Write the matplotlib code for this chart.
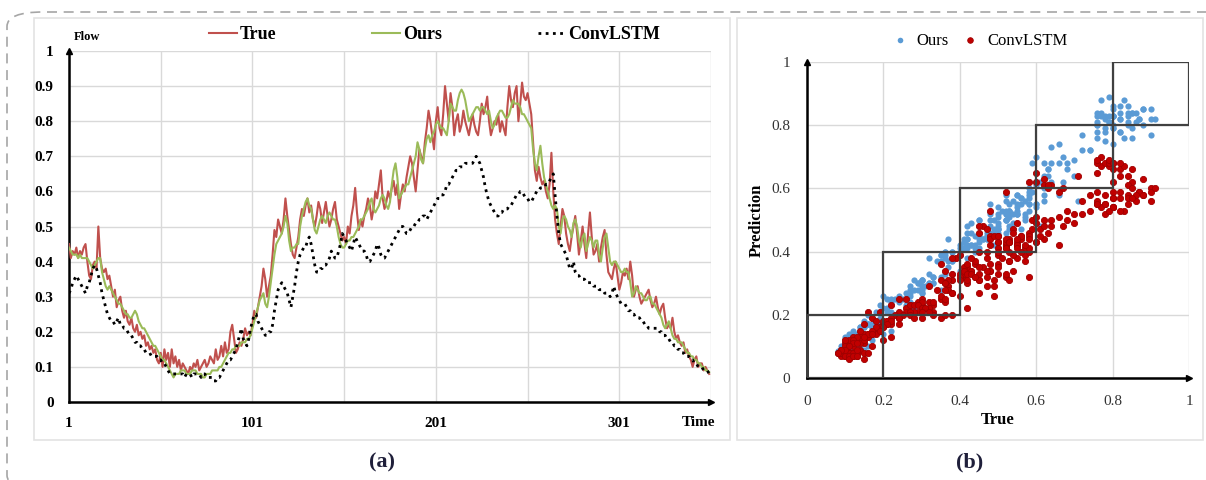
"""Flow prediction comparison: (a) time series, (b) true vs prediction scatter."""
import matplotlib
matplotlib.use("Agg")
import matplotlib.pyplot as plt
import numpy as np
from matplotlib.patches import FancyBboxPatch, Rectangle

# --- data (t = 1..350) ------------------------------------------------------
true_flow = [
    0.45, 0.41, 0.43, 0.42, 0.44, 0.41, 0.43, 0.42, 0.44, 0.45,
    0.40, 0.36, 0.35, 0.39, 0.40, 0.38, 0.50, 0.41, 0.38, 0.37,
    0.38, 0.35, 0.36, 0.33, 0.30, 0.32, 0.27, 0.29, 0.30, 0.26,
    0.24, 0.26, 0.23, 0.22, 0.24, 0.21, 0.20, 0.22, 0.19, 0.20,
    0.18, 0.19, 0.16, 0.17, 0.15, 0.16, 0.14, 0.15, 0.12, 0.11,
    0.14, 0.10, 0.15, 0.12, 0.14, 0.10, 0.15, 0.11, 0.13, 0.10,
    0.12, 0.09, 0.11, 0.10, 0.09, 0.08, 0.10, 0.09, 0.11, 0.10,
    0.12, 0.09, 0.10, 0.11, 0.12, 0.10, 0.11, 0.13, 0.12, 0.11,
    0.15, 0.12, 0.13, 0.16, 0.13, 0.17, 0.14, 0.15, 0.20, 0.22,
    0.18, 0.14, 0.15, 0.17, 0.16, 0.18, 0.21, 0.19, 0.20, 0.19,
    0.22, 0.26, 0.24, 0.27, 0.30, 0.33, 0.38, 0.35, 0.30, 0.33,
    0.36, 0.42, 0.49, 0.47, 0.52, 0.50, 0.48, 0.52, 0.58, 0.53,
    0.49, 0.45, 0.42, 0.41, 0.44, 0.47, 0.52, 0.55, 0.53, 0.56,
    0.58, 0.54, 0.56, 0.52, 0.50, 0.53, 0.57, 0.55, 0.51, 0.54,
    0.57, 0.53, 0.50, 0.52, 0.55, 0.57, 0.52, 0.50, 0.48, 0.46,
    0.47, 0.45, 0.50, 0.48, 0.53, 0.56, 0.61, 0.54, 0.49, 0.52,
    0.50, 0.53, 0.55, 0.58, 0.56, 0.52, 0.55, 0.60, 0.58, 0.62,
    0.66, 0.58, 0.55, 0.57, 0.60, 0.58, 0.61, 0.63, 0.59, 0.62,
    0.55, 0.59, 0.62, 0.60, 0.64, 0.67, 0.70, 0.68, 0.64, 0.60,
    0.66, 0.72, 0.70, 0.68, 0.74, 0.78, 0.83, 0.80, 0.76, 0.72,
    0.80, 0.84, 0.78, 0.76, 0.82, 0.90, 0.85, 0.80, 0.88, 0.84,
    0.76, 0.80, 0.82, 0.77, 0.79, 0.83, 0.80, 0.78, 0.76, 0.79,
    0.82, 0.79, 0.77, 0.76, 0.80, 0.85, 0.82, 0.84, 0.87, 0.80,
    0.76, 0.78, 0.80, 0.79, 0.82, 0.77, 0.80, 0.78, 0.76, 0.84,
    0.90, 0.86, 0.84, 0.88, 0.90, 0.80, 0.85, 0.91, 0.87, 0.86,
    0.88, 0.85, 0.82, 0.74, 0.66, 0.63, 0.67, 0.64, 0.62, 0.63,
    0.60, 0.58, 0.62, 0.71, 0.60, 0.52, 0.48, 0.45, 0.50, 0.55,
    0.53, 0.48, 0.45, 0.43, 0.47, 0.50, 0.53, 0.48, 0.42, 0.46,
    0.50, 0.45, 0.41, 0.48, 0.54, 0.47, 0.42, 0.43, 0.45, 0.40,
    0.44, 0.47, 0.49, 0.42, 0.37, 0.36, 0.35, 0.38, 0.40, 0.36,
    0.32, 0.34, 0.37, 0.36, 0.38, 0.35, 0.40, 0.36, 0.30, 0.32,
    0.33, 0.30, 0.28, 0.29, 0.30, 0.31, 0.32, 0.29, 0.27, 0.28,
    0.30, 0.27, 0.25, 0.27, 0.28, 0.24, 0.21, 0.22, 0.21, 0.24,
    0.20, 0.18, 0.19, 0.17, 0.16, 0.17, 0.14, 0.15, 0.13, 0.12,
    0.10, 0.12, 0.13, 0.10, 0.11, 0.11, 0.09, 0.10, 0.09, 0.08,
]
ours_flow = [
    0.44, 0.43, 0.42, 0.42, 0.42, 0.41, 0.42, 0.41, 0.41, 0.41,
    0.41, 0.40, 0.39, 0.38, 0.39, 0.40, 0.41, 0.41, 0.37, 0.35,
    0.33, 0.32, 0.33, 0.32, 0.31, 0.30, 0.29, 0.28, 0.28, 0.27,
    0.26, 0.25, 0.25, 0.24, 0.24, 0.25, 0.26, 0.25, 0.23, 0.22,
    0.21, 0.21, 0.20, 0.19, 0.18, 0.17, 0.16, 0.16, 0.15, 0.14,
    0.13, 0.12, 0.12, 0.11, 0.10, 0.09, 0.08, 0.07, 0.08, 0.08,
    0.08, 0.09, 0.09, 0.09, 0.08, 0.08, 0.08, 0.09, 0.09, 0.09,
    0.08, 0.08, 0.08, 0.07, 0.07, 0.08, 0.08, 0.08, 0.09, 0.09,
    0.09, 0.09, 0.10, 0.10, 0.11, 0.12, 0.13, 0.14, 0.14, 0.15,
    0.15, 0.16, 0.16, 0.16, 0.17, 0.17, 0.17, 0.18, 0.18, 0.19,
    0.21, 0.23, 0.25, 0.27, 0.29, 0.30, 0.31, 0.28, 0.27, 0.30,
    0.34, 0.38, 0.42, 0.45, 0.46, 0.47, 0.48, 0.50, 0.53, 0.51,
    0.46, 0.43, 0.44, 0.44, 0.45, 0.45, 0.50, 0.53, 0.55, 0.57,
    0.58, 0.56, 0.55, 0.52, 0.49, 0.48, 0.50, 0.52, 0.53, 0.52,
    0.51, 0.53, 0.54, 0.53, 0.52, 0.52, 0.50, 0.47, 0.45, 0.44,
    0.44, 0.45, 0.46, 0.46, 0.47, 0.47, 0.48, 0.49, 0.50, 0.52,
    0.52, 0.53, 0.54, 0.55, 0.57, 0.58, 0.55, 0.54, 0.55, 0.56,
    0.58, 0.59, 0.58, 0.56, 0.55, 0.57, 0.62, 0.66, 0.68, 0.64,
    0.58, 0.59, 0.60, 0.61, 0.62, 0.62, 0.64, 0.66, 0.68, 0.70,
    0.74, 0.72, 0.69, 0.68, 0.72, 0.75, 0.76, 0.74, 0.76, 0.77,
    0.79, 0.80, 0.79, 0.78, 0.78, 0.77, 0.76, 0.80, 0.85, 0.84,
    0.83, 0.83, 0.86, 0.88, 0.89, 0.88, 0.86, 0.83, 0.80, 0.81,
    0.82, 0.83, 0.84, 0.84, 0.83, 0.84, 0.84, 0.83, 0.82, 0.83,
    0.80, 0.78, 0.79, 0.81, 0.82, 0.83, 0.83, 0.82, 0.81, 0.81,
    0.82, 0.84, 0.86, 0.85, 0.85, 0.85, 0.84, 0.82, 0.82, 0.81,
    0.80, 0.79, 0.78, 0.72, 0.68, 0.66, 0.70, 0.73, 0.68, 0.64,
    0.62, 0.60, 0.58, 0.56, 0.55, 0.56, 0.55, 0.50, 0.48, 0.52,
    0.53, 0.52, 0.50, 0.49, 0.47, 0.51, 0.52, 0.50, 0.46, 0.44,
    0.47, 0.48, 0.43, 0.45, 0.47, 0.46, 0.44, 0.46, 0.46, 0.42,
    0.40, 0.44, 0.47, 0.48, 0.44, 0.40, 0.39, 0.40, 0.40, 0.39,
    0.38, 0.37, 0.37, 0.38, 0.37, 0.37, 0.34, 0.30, 0.31, 0.33,
    0.32, 0.31, 0.31, 0.30, 0.29, 0.29, 0.30, 0.30, 0.28, 0.28,
    0.27, 0.26, 0.25, 0.24, 0.22, 0.21, 0.22, 0.23, 0.21, 0.19,
    0.18, 0.18, 0.17, 0.17, 0.17, 0.16, 0.15, 0.14, 0.14, 0.13,
    0.13, 0.12, 0.12, 0.11, 0.11, 0.10, 0.10, 0.09, 0.09, 0.085,
]
convlstm_flow = [
    0.31, 0.32, 0.34, 0.35, 0.36, 0.35, 0.34, 0.33, 0.32, 0.31,
    0.33, 0.34, 0.36, 0.38, 0.39, 0.38, 0.36, 0.34, 0.31, 0.29,
    0.27, 0.25, 0.24, 0.23, 0.23, 0.22, 0.23, 0.24, 0.22, 0.22,
    0.21, 0.21, 0.20, 0.19, 0.19, 0.18, 0.17, 0.17, 0.16, 0.16,
    0.15, 0.15, 0.14, 0.14, 0.14, 0.13, 0.13, 0.13, 0.13, 0.12,
    0.12, 0.11, 0.11, 0.10, 0.09, 0.08, 0.08, 0.08, 0.08, 0.08,
    0.08, 0.08, 0.08, 0.07, 0.08, 0.08, 0.08, 0.07, 0.08, 0.08,
    0.08, 0.08, 0.07, 0.08, 0.08, 0.07, 0.07, 0.07, 0.07, 0.06,
    0.06, 0.07, 0.07, 0.08, 0.09, 0.10, 0.11, 0.12, 0.12, 0.13,
    0.14, 0.15, 0.17, 0.19, 0.21, 0.18, 0.17, 0.16, 0.18, 0.21,
    0.23, 0.25, 0.25, 0.23, 0.22, 0.21, 0.20, 0.19, 0.19, 0.20,
    0.20, 0.22, 0.26, 0.29, 0.32, 0.33, 0.34, 0.33, 0.32, 0.31,
    0.29, 0.27, 0.30, 0.33, 0.37, 0.40, 0.42, 0.43, 0.44, 0.44,
    0.46, 0.47, 0.45, 0.42, 0.39, 0.37, 0.37, 0.38, 0.38, 0.39,
    0.39, 0.40, 0.41, 0.43, 0.42, 0.41, 0.41, 0.43, 0.45, 0.48,
    0.47, 0.46, 0.45, 0.44, 0.43, 0.45, 0.47, 0.46, 0.45, 0.44,
    0.43, 0.43, 0.42, 0.40, 0.40, 0.41, 0.42, 0.43, 0.45, 0.44,
    0.42, 0.41, 0.41, 0.42, 0.43, 0.44, 0.45, 0.46, 0.47, 0.48,
    0.49, 0.50, 0.50, 0.49, 0.48, 0.48, 0.49, 0.50, 0.50, 0.51,
    0.51, 0.52, 0.52, 0.53, 0.53, 0.52, 0.53, 0.54, 0.55, 0.56,
    0.57, 0.58, 0.58, 0.59, 0.59, 0.60, 0.62, 0.62, 0.63, 0.64,
    0.65, 0.66, 0.66, 0.67, 0.67, 0.67, 0.68, 0.68, 0.68, 0.68,
    0.68, 0.69, 0.70, 0.69, 0.68, 0.66, 0.64, 0.61, 0.59, 0.57,
    0.56, 0.55, 0.54, 0.53, 0.53, 0.54, 0.54, 0.55, 0.55, 0.55,
    0.56, 0.56, 0.57, 0.58, 0.59, 0.59, 0.60, 0.60, 0.59, 0.58,
    0.58, 0.57, 0.57, 0.58, 0.59, 0.60, 0.60, 0.61, 0.61, 0.61,
    0.62, 0.62, 0.63, 0.64, 0.65, 0.59, 0.53, 0.48, 0.45, 0.44,
    0.43, 0.42, 0.40, 0.38, 0.38, 0.40, 0.37, 0.36, 0.36, 0.35,
    0.35, 0.35, 0.34, 0.34, 0.34, 0.34, 0.33, 0.33, 0.33, 0.32,
    0.32, 0.32, 0.31, 0.31, 0.31, 0.30, 0.31, 0.33, 0.31, 0.30,
    0.29, 0.28, 0.28, 0.28, 0.27, 0.26, 0.26, 0.25, 0.25, 0.24,
    0.24, 0.24, 0.23, 0.23, 0.22, 0.22, 0.21, 0.21, 0.21, 0.21,
    0.21, 0.21, 0.20, 0.20, 0.19, 0.19, 0.18, 0.18, 0.17, 0.17,
    0.16, 0.16, 0.15, 0.15, 0.14, 0.14, 0.13, 0.13, 0.13, 0.12,
    0.12, 0.11, 0.11, 0.10, 0.10, 0.10, 0.09, 0.09, 0.09, 0.08,
]
time_ticks = [1, 51, 101, 151, 201, 251, 301, 351]
time_labels = ["1", "", "101", "", "201", "", "301", ""]
flow_ticks = [0, 0.1, 0.2, 0.3, 0.4, 0.5, 0.6, 0.7, 0.8, 0.9, 1]
flow_labels = ["0", "0.1", "0.2", "0.3", "0.4", "0.5", "0.6", "0.7", "0.8", "0.9", "1"]
scatter_ticks = [0, 0.2, 0.4, 0.6, 0.8, 1]
scatter_labels = ["0", "0.2", "0.4", "0.6", "0.8", "1"]
box_edges = [0, 0.2, 0.4, 0.6, 0.8]

SERIF = ["Liberation Serif", "DejaVu Serif"]
plt.rcParams["font.family"] = SERIF
GRID = "#d9d9d9"

t = np.arange(1, len(true_flow) + 1)

fig = plt.figure(figsize=(12.06, 4.8), dpi=100)
W, H = 1206.0, 480.0


def px(x0, y0, x1, y1):
    """pixel box (top-left origin) -> figure fraction rect"""
    return [x0 / W, 1 - y1 / H, (x1 - x0) / W, (y1 - y0) / H]


# outer dashed frame and panel boxes
fig.patches.append(FancyBboxPatch((7 / W, -0.02), 1.2, 1 - 12 / H + 0.02,
                                  boxstyle="round,pad=0,rounding_size=0.03",
                                  transform=fig.transFigure, fill=False,
                                  ec="#a6a6a6", lw=1.2, ls=(0, (6, 4))))
for bx in [(34, 18, 730, 440), (737, 18, 1203, 440)]:
    r = px(*bx)
    fig.patches.append(Rectangle((r[0], r[1]), r[2], r[3], transform=fig.transFigure,
                                 fill=False, ec="#e3e3e3", lw=1.2))

# --- (a) time series --------------------------------------------------------
ax = fig.add_axes(px(69, 51, 711, 402))
ax.plot(t, true_flow, color="#C0504D", lw=1.5, label="True", zorder=3)
ax.plot(t, ours_flow, color="#9BBB59", lw=1.5, label="Ours", zorder=4)
ax.plot(t, convlstm_flow, color="black", lw=2.0, ls=(0, (1, 1.6)), label="ConvLSTM", zorder=5)
ax.set_xlim(1, 351)
ax.set_ylim(0, 1)
ax.set_xticks(time_ticks)
ax.set_xticklabels(time_labels)
ax.set_yticks(flow_ticks)
ax.set_yticklabels(flow_labels)
ax.tick_params(length=0, labelsize=11, pad=11)
for lab in ax.get_xticklabels() + ax.get_yticklabels():
    lab.set_fontweight("bold")
ax.grid(True, color=GRID, lw=1.0)
ax.set_axisbelow(True)
for s in ["top", "right"]:
    ax.spines[s].set_visible(False)
for s in ["left", "bottom"]:
    ax.spines[s].set_linewidth(1.8)
ax.plot(0, 1, "^k", ms=5, transform=ax.transAxes, clip_on=False)
ax.plot(1, 0, ">k", ms=5, transform=ax.transAxes, clip_on=False)
ax.text(344, -0.059, "Time", ha="center", va="center", fontsize=11, fontweight="bold",
        transform=ax.transData, clip_on=False)
fig.text(87 / W, 1 - 37 / H, "Flow", ha="center", va="center", fontsize=9, fontweight="bold")
ax.legend(loc="lower center", bbox_to_anchor=(0.57, 1.0), ncol=3, frameon=False,
          prop={"weight": "bold", "size": 13}, handlelength=1.5, handletextpad=0.2,
          columnspacing=5.3, borderaxespad=0.05)
fig.text(382 / W, 1 - 462 / H, "(a)", ha="center", va="center", fontsize=16,
         fontweight="bold", color="#1f1f3a")

# --- (b) scatter -------------------------------------------------------------
bx = fig.add_axes(px(807, 62, 1189, 378))
bx.scatter(true_flow, ours_flow, s=20, color="#5B9BD5", lw=0, label="Ours", zorder=3)
bx.scatter(true_flow, convlstm_flow, s=20, color="#C00000", ec="#a00000", lw=0.6,
           label="ConvLSTM", zorder=4)
for e in box_edges:
    bx.add_patch(Rectangle((e, e), 0.2, 0.2, fill=False, ec="#404040", lw=1.6, zorder=5))
bx.set_xlim(0, 1)
bx.set_ylim(0, 1)
bx.set_xticks(scatter_ticks)
bx.set_xticklabels(scatter_labels)
bx.set_yticks(scatter_ticks)
bx.set_yticklabels(scatter_labels)
bx.tick_params(length=0, labelsize=11, pad=12, colors="#333333")
bx.grid(True, color=GRID, lw=1.0)
bx.set_axisbelow(True)
for s in ["top", "right"]:
    bx.spines[s].set_visible(False)
for s in ["left", "bottom"]:
    bx.spines[s].set_linewidth(1.8)
bx.plot(0, 1, "^k", ms=4, transform=bx.transAxes, clip_on=False)
bx.plot(1, 0, ">k", ms=4, transform=bx.transAxes, clip_on=False)
bx.set_xlabel("True", fontsize=12, fontweight="bold", labelpad=3)
bx.set_ylabel("Prediction", fontsize=12, fontweight="bold", labelpad=5)
bx.legend(loc="lower center", bbox_to_anchor=(0.44, 1.0), ncol=2, frameon=False,
          prop={"size": 12}, handletextpad=0.0, columnspacing=0.3, markerscale=0.9,
          borderaxespad=0.4)
fig.text(970 / W, 1 - 462 / H, "(b)", ha="center", va="center", fontsize=16,
         fontweight="bold", color="#1f1f3a")

fig.savefig("out.png", dpi=100)
